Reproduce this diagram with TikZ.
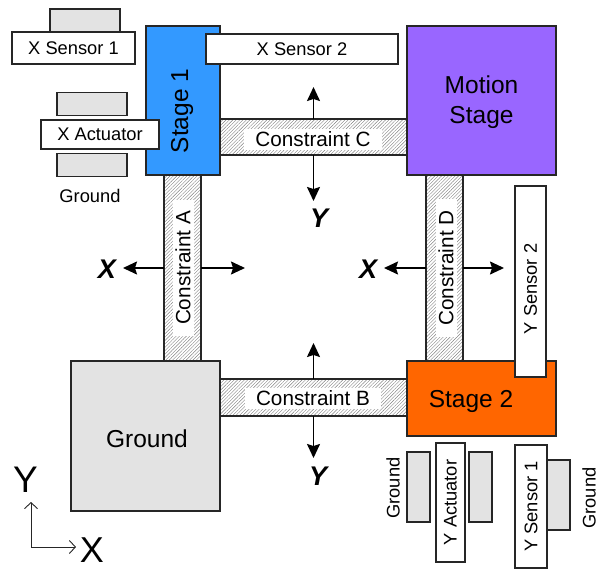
\documentclass[tikz,border=0pt]{standalone}
\usepackage{fontspec}
\setmainfont{Liberation Sans}
\usetikzlibrary{patterns.meta,arrows.meta}

\tikzset{
  block/.style={draw=black!85,line width=1.2pt,inner sep=0pt,outer sep=0pt,align=center},
  fixedpart/.style={block,fill=black!11},
  textbox/.style={block,fill=white,font=\fontsize{18.3}{20}\selectfont},
  flexure/.style={draw=black!85,line width=1.2pt,inner sep=0pt,outer sep=0pt,
    pattern={Lines[angle=45,distance=2.4pt,line width=0.4pt]},pattern color=black!50},
  flexlabel/.style={fill=white,inner xsep=11pt,inner ysep=0pt,minimum height=21pt,font=\fontsize{20.7}{22}\selectfont},
  motionarrow/.style={-{Stealth[length=14pt,width=13pt,inset=2pt]},line width=1.5pt,draw=black},
  motionlabel/.style={font=\fontsize{27}{28}\selectfont\bfseries\itshape},
  axisarrow/.style={-{Straight Barb[length=6pt,width=13pt]},line width=0.9pt,draw=black!85}
}

\begin{document}
\begin{tikzpicture}[x=1pt,y=-1pt]
        \useasboundingbox (0,0) rectangle (604,570);

        % flexures
        \node[flexure,minimum width=37pt,minimum height=186pt] (conA) at (182.5,268) {};
        \node[flexure,minimum width=187pt,minimum height=37pt] (conB) at (313.5,397.5) {};
        \node[flexure,minimum width=187pt,minimum height=36pt] (conC) at (313.5,137) {};
        \node[flexure,minimum width=37pt,minimum height=186pt] (conD) at (444.5,268) {};
        \node[flexlabel,rotate=90] (labA) at (183,268) {Constraint A};
        \node[flexlabel] (labB) at (313,398.5) {Constraint B};
        \node[flexlabel] (labC) at (313,139.5) {Constraint C};
        \node[flexlabel,rotate=90] (labD) at (446,268) {Constraint D};

        % stages
        \node[block,fill=black!11,minimum width=149pt,minimum height=150pt] (ground) at (145.5,436) {};
        \node[font=\fontsize{24.5}{28}\selectfont] (groundlab) at (147,439) {Ground};
        \node[block,fill={rgb,255:red,51;green,153;blue,255},minimum width=149pt,minimum height=74pt,rotate=90] (stageA) at (183,100.5) {};
        \node[font=\fontsize{24.5}{28}\selectfont,rotate=90] (stageAlab) at (182,111) {Stage 1};
        \node[block,fill={rgb,255:red,153;green,102;blue,255},minimum width=149pt,minimum height=149pt] (motion) at (481.5,100.5) {};
        \node[font=\fontsize{24.5}{30}\selectfont,align=center] (motionlab) at (481.5,102) {Motion\\Stage};
        \node[block,fill={rgb,255:red,255;green,102;blue,0},minimum width=149pt,minimum height=75pt] (stageB) at (481.5,398.5) {};
        \node[font=\fontsize{24.5}{28}\selectfont] (stageBlab) at (471,401) {Stage 2};

        % sensors and actuators in x
        \node[fixedpart,minimum width=70pt,minimum height=23pt] (gndXa) at (85,20.5) {};
        \node[textbox,minimum width=123pt,minimum height=32pt] (senXa) at (73.5,48) {X Sensor 1};
        \node[textbox,minimum width=192pt,minimum height=30pt] (senXb) at (302,49) {X Sensor 2};
        \node[fixedpart,minimum width=70pt,minimum height=23pt] (gndXb) at (92,104) {};
        \node[fixedpart,minimum width=70pt,minimum height=23pt] (gndXc) at (92,165) {};
        \node[textbox,minimum width=118pt,minimum height=29pt] (actX) at (100,134.5) {X Actuator};
        \node[font=\fontsize{18.3}{20}\selectfont] (gndXlab) at (90,196) {Ground};

        % sensors and actuators in y
        \node[textbox,rotate=90,minimum width=191pt,minimum height=31pt] (senYb) at (530.5,281.5) {};
        \node[font=\fontsize{18.3}{20}\selectfont,rotate=90] (senYblab) at (530.5,289) {Y Sensor 2};
        \node[fixedpart,minimum width=23pt,minimum height=70pt] (gndYa) at (418.5,487) {};
        \node[fixedpart,minimum width=23pt,minimum height=70pt] (gndYb) at (480.5,487) {};
        \node[textbox,rotate=90,minimum width=119pt,minimum height=29pt] (actY) at (450.5,502.5) {Y Actuator};
        \node[fixedpart,minimum width=23pt,minimum height=70pt] (gndYc) at (558.5,495) {};
        \node[textbox,rotate=90,minimum width=123pt,minimum height=32pt] (senYa) at (531,506.5) {Y Sensor 1};
        \node[font=\fontsize{18.3}{20}\selectfont,rotate=90] (gndYalab) at (393,488) {Ground};
        \node[font=\fontsize{18.3}{20}\selectfont,rotate=90] (gndYclab) at (589,498) {Ground};

        % motion directions
        \coordinate (xAl) at (123,268);
        \coordinate (xAr) at (245,268);
        \coordinate (xDl) at (384,268);
        \coordinate (xDr) at (504,268);
        \coordinate (yCu) at (313.5,87);
        \coordinate (yCd) at (313.5,201);
        \coordinate (yBu) at (313.5,343);
        \coordinate (yBd) at (313.5,458);
        \draw[motionarrow] (conA.west) -- (xAl);
        \draw[motionarrow] (conA.east) -- (xAr);
        \draw[motionarrow] (conD.west) -- (xDl);
        \draw[motionarrow] (conD.east) -- (xDr);
        \draw[motionarrow] (conC.north) -- (yCu);
        \draw[motionarrow] (conC.south) -- (yCd);
        \draw[motionarrow] (conB.north) -- (yBu);
        \draw[motionarrow] (conB.south) -- (yBd);
        \node[motionlabel] (xA) at (107,269) {X};
        \node[motionlabel] (xD) at (368,269) {X};
        \node[motionlabel] (yC) at (319,218) {Y};
        \node[motionlabel] (yB) at (318,476) {Y};

        % axes
        \coordinate (orig) at (31,547);
        \node[font=\fontsize{37}{40}\selectfont,inner sep=0pt] (axisY) at (25.5,480) {Y};
        \node[font=\fontsize{36}{38}\selectfont,inner sep=0pt] (axisX) at (92,550) {X};
        \draw[axisarrow] (orig) -- (31,502);
        \draw[axisarrow] (orig) -- (76,547);
      \end{tikzpicture}
\end{document}
